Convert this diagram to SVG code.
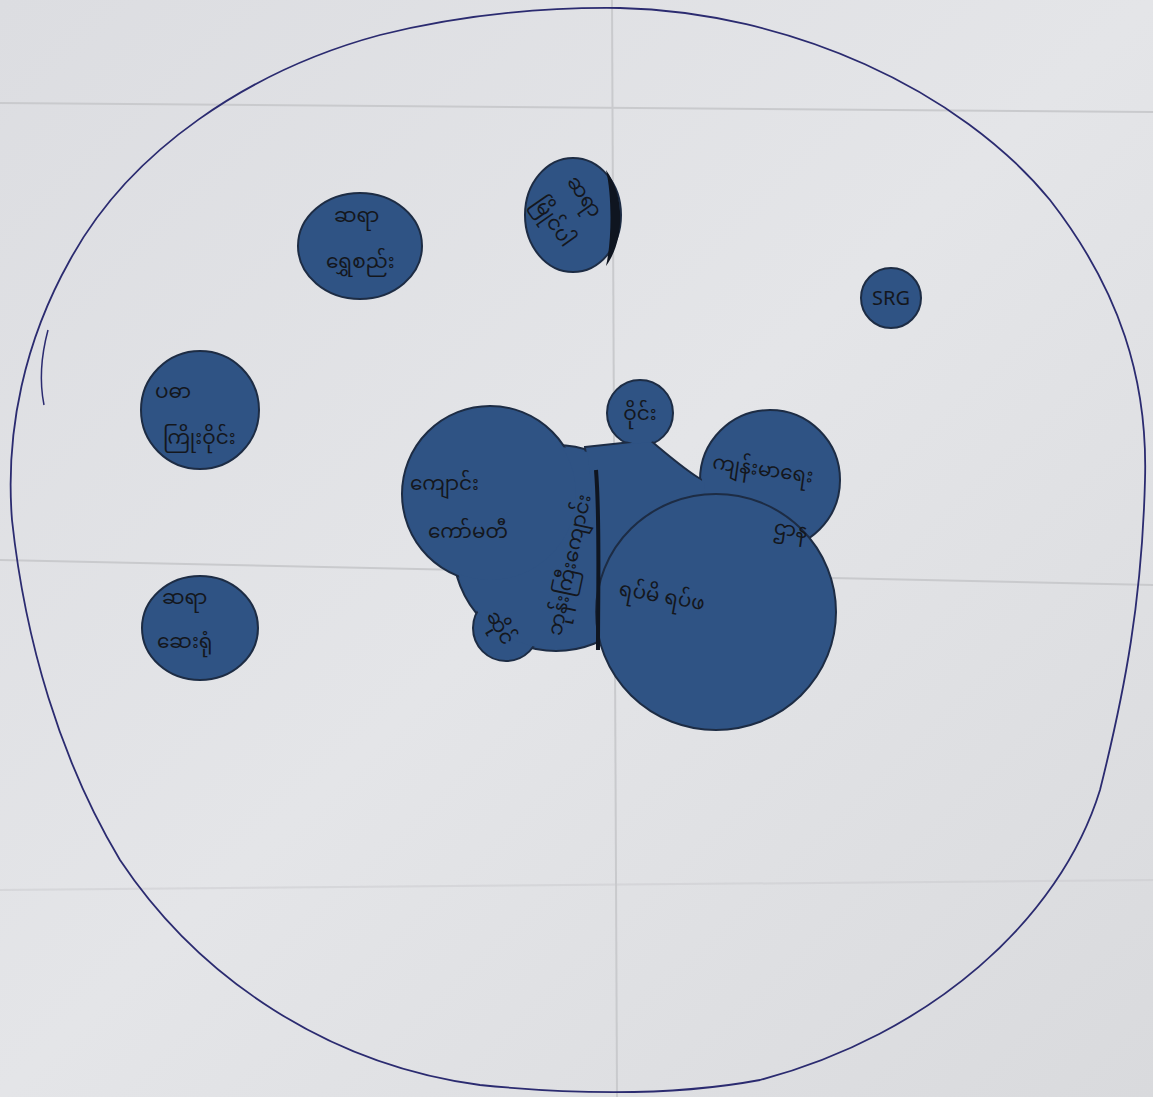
<svg xmlns="http://www.w3.org/2000/svg" width="1153" height="1097" viewBox="0 0 1153 1097">
<defs>
<linearGradient id="paper" x1="0" y1="0" x2="1" y2="1">
<stop offset="0" stop-color="#dcdde1"/>
<stop offset="0.5" stop-color="#e4e5e8"/>
<stop offset="1" stop-color="#d9dadd"/>
</linearGradient>
<style>
.disc{fill:#2f5384;stroke:#1d2c44;stroke-width:2}
.lbl{font-family:"Noto Sans Myanmar","Noto Sans","DejaVu Sans",sans-serif;fill:#14171d;font-size:20px}
.crease{stroke:#c9cacd;stroke-width:2;fill:none}
</style>
</defs>
<rect width="1153" height="1097" fill="url(#paper)"/>
<g id="creases">
<path class="crease" d="M0 103 L1153 112"/>
<path class="crease" d="M0 560 L1153 585"/>
<path class="crease" d="M612 0 L617 1097"/>
<path class="crease" d="M0 890 L1153 880" stroke-opacity="0.5"/>
</g>
<g id="boundary">
<path d="M620 8 C790 12 960 90 1050 200 C1120 290 1148 380 1145 480 C1142 600 1125 690 1100 790 C1060 920 930 1035 760 1080 C680 1095 580 1095 480 1085 C330 1065 200 980 120 860 C60 760 25 640 12 520 C5 430 25 340 70 260 C130 150 250 70 380 35 C460 15 540 7 620 8 Z" fill="none" stroke="#2b2b70" stroke-width="1.8"/>
<path d="M48 330 C40 360 40 385 44 405" fill="none" stroke="#2b2b70" stroke-width="1.5"/>
</g>
<g id="node-c1"><ellipse class="disc" cx="360" cy="246" rx="62" ry="53"/>
<text class="lbl" x="334" y="222" font-size="12">ဆရာ</text><text class="lbl" x="326" y="268" font-size="15">ရွှေစည်း</text></g>
<g id="node-c2"><ellipse class="disc" cx="573" cy="215" rx="48" ry="57"/>
<path d="M606 170 C625 195 625 240 606 266 C612 240 612 195 606 170 Z" fill="#0f1520"/>
<g transform="rotate(55 568 212)"><text class="lbl" x="542" y="196" font-size="13">ဆရာ</text><text class="lbl" x="540" y="236" font-size="14">မြိုင်ပါ</text></g></g>
<g id="node-c3"><circle class="disc" cx="891" cy="298" r="30"/>
<text class="lbl" x="891" y="305" font-size="17" text-anchor="middle">SRG</text></g>
<g id="node-c4"><circle class="disc" cx="200" cy="410" r="59"/>
<text class="lbl" x="155" y="398" font-size="16">ပဓာ</text><text class="lbl" x="163" y="444" font-size="16">ကြိုးဝိုင်း</text></g>
<g id="node-c5"><ellipse class="disc" cx="200" cy="628" rx="58" ry="52"/>
<text class="lbl" x="162" y="604" font-size="12">ဆရာ</text><text class="lbl" x="157" y="648" font-size="16">ဆေးရုံ</text></g>
<g id="node-cluster">
<circle class="disc" cx="556" cy="548" r="103"/>
<circle class="disc" cx="490" cy="494" r="88"/>
<circle class="disc" cx="506" cy="628" r="33"/>
<circle class="disc" cx="640" cy="413" r="33"/>
<circle class="disc" cx="770" cy="480" r="70"/>
<path class="disc" d="M585 447 L650 440 C668 455 685 470 702 480 L705 540 L600 580 Z"/>
<circle cx="556" cy="548" r="101" fill="#2f5384"/>
<circle cx="490" cy="494" r="86" fill="#2f5384"/>
<circle cx="640" cy="413" r="31" fill="#2f5384"/>
<circle cx="770" cy="480" r="68" fill="#2f5384"/>
<path d="M587 449 L650 442 C668 457 685 472 704 482 L707 540 L602 578 Z" fill="#2f5384"/>
<ellipse class="disc" cx="716" cy="612" rx="120" ry="118"/>
<path d="M596 470 C600 520 598 580 598 650" stroke="#0f1520" stroke-width="4" fill="none"/>
<text class="lbl" x="410" y="490" font-size="19">ကျောင်း</text>
<text class="lbl" x="428" y="538" font-size="19">ကော်မတီ</text>
<g transform="rotate(-78 570 565)"><text class="lbl" x="570" y="571" font-size="17" text-anchor="middle">ဘုန်းကြီးကျောင်း</text></g>
<text class="lbl" x="640" y="420" font-size="15" text-anchor="middle">ဝိုင်း</text>
<g transform="rotate(60 500 628)"><text class="lbl" x="500" y="634" font-size="14" text-anchor="middle">ဆိုင်</text></g>
<g transform="rotate(8 765 470)"><text class="lbl" x="712" y="476" font-size="19">ကျန်းမာရေး</text><text class="lbl" x="782" y="532" font-size="15">ဌာန</text></g>
<g transform="rotate(10 670 600)"><text class="lbl" x="618" y="604" font-size="21">ရပ်မိ ရပ်ဖ</text></g>
</g>
</svg>
